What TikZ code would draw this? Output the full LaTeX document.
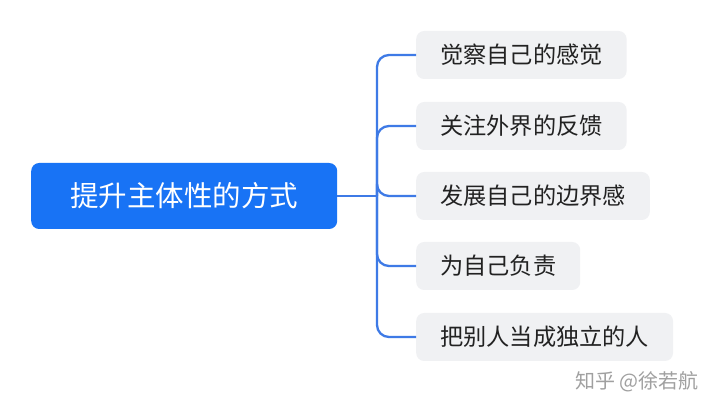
\documentclass[tikz,border=0pt]{standalone}
\usepackage{fontspec}
\setmainfont{Noto Sans CJK SC}
\definecolor{rootblue}{RGB}{24,115,245}
\definecolor{connblue}{RGB}{62,122,230}
\definecolor{leafgray}{RGB}{240,241,243}
\definecolor{leaftext}{RGB}{34,34,34}
\definecolor{markgray}{RGB}{160,160,160}
\begin{document}
\begin{tikzpicture}[x=1pt,y=-1pt,
  rootbox/.style={draw=none,fill=rootblue,text=white,rounded corners=8pt,
    inner xsep=39pt,inner ysep=0pt,minimum height=66pt,anchor=west,
    font=\fontsize{28.5}{34}\selectfont},
  leafbox/.style={draw=none,fill=leafgray,text=leaftext,rounded corners=8pt,
    inner xsep=24pt,inner ysep=0pt,minimum height=48pt,anchor=west,
    font=\fontsize{23.2}{28}\selectfont},
  conn/.style={draw=connblue,line width=2.3pt,rounded corners=12pt},
  wmark/.style={text=markgray,font=\fontsize{20}{24}\selectfont,anchor=east}]
\useasboundingbox (0,0) rectangle (720,411);
\fill[white] (0,0) rectangle (720,411);
\node[rootbox] (root) at (31,196) {提升主体性的方式};
\coordinate (trunk) at (377,196);
\node[leafbox] (c1) at (416,55) {觉察自己的感觉};
\node[leafbox] (c2) at (416,126) {关注外界的反馈};
\node[leafbox] (c3) at (416,196) {发展自己的边界感};
\node[leafbox] (c4) at (416,266) {为自己负责};
\node[leafbox] (c5) at (416,337) {把别人当成独立的人};
\draw[conn] (root.east) -- (trunk);
\foreach \c in {c1,c2,c3,c4,c5}{\draw[conn] (trunk) |- (\c.west);}
\node[wmark] (wm) at (702,382) {知乎 @徐若航};
\end{tikzpicture}
\end{document}
